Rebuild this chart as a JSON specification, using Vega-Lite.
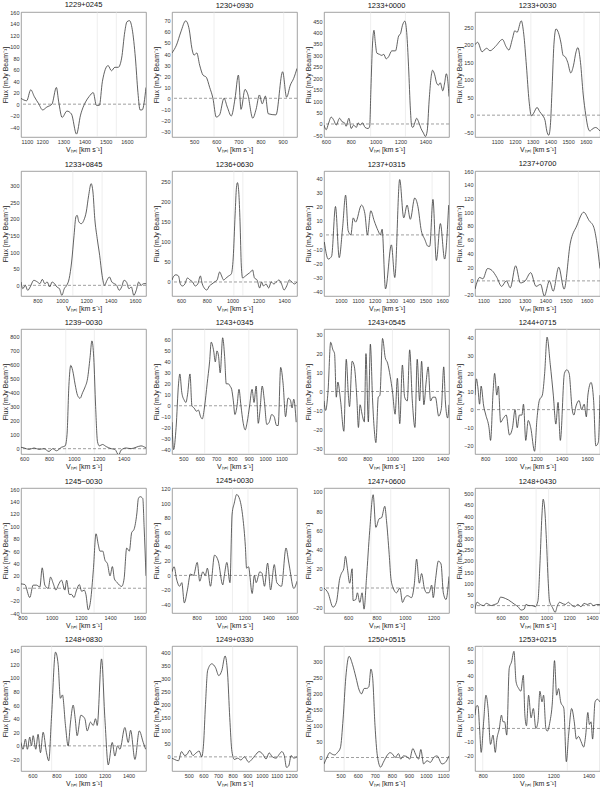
{
"$schema":"https://vega.github.io/schema/vega-lite/v6.json",
"padding":{"left":0,"right":0,"top":0,"bottom":0},
"columns":4,
"spacing":{"row":6,"column":4},
"config":{
 "font":"Liberation Sans",
 "numberFormat":"d",
 "view":{"stroke":"#8a8a8a","strokeWidth":0.8},
 "axis":{"grid":false,"ticks":false,"domain":false,"labelOverlap":false,"labelFontSize":5.5,"labelColor":"#333","titleFontSize":7,"titleFontWeight":"normal","titleColor":"#222","labelPadding":2,"labelFont":"Liberation Sans","titleFont":"Liberation Sans"},
 "axisY":{"minExtent":11,"maxExtent":11,"titlePadding":2},
 "axisX":{"titlePadding":1,"labelFlush":true},
 "title":{"fontSize":7.5,"fontWeight":"normal","offset":2,"color":"#111","font":"Liberation Sans"}
},
"datasets":{
"vlines":[{"p":"1229+0245","v":1460},{"p":"1229+0245","v":1550},{"p":"1230+0930","v":590},{"p":"1230+0930","v":905},{"p":"1233+0000","v":960},{"p":"1233+0000","v":1240},{"p":"1233+0030","v":1290},{"p":"1233+0030","v":1590},{"p":"1233+0845","v":1090},{"p":"1233+0845","v":1330},{"p":"1236+0630","v":1010},{"p":"1236+0630","v":1080},{"p":"1237+0315","v":1290},{"p":"1237+0315","v":1540},{"p":"1237+0700","v":1560},{"p":"1239-0030","v":935},{"p":"1239-0030","v":1165},{"p":"1243+0345","v":630},{"p":"1243+0345","v":900},{"p":"1243+0545","v":1000},{"p":"1244+0715","v":1230},{"p":"1244+0715","v":1440},{"p":"1245-0030","v":1290},{"p":"1245+0030","v":1100},{"p":"1245+0030","v":1230},{"p":"1247+0600","v":760},{"p":"1247+0600","v":900},{"p":"1248+0430","v":910},{"p":"1248+0430","v":1020},{"p":"1248+0830","v":760},{"p":"1248+0830","v":1190},{"p":"1249+0330","v":590},{"p":"1249+0330","v":800},{"p":"1250+0515","v":520},{"p":"1250+0515","v":730},{"p":"1253+0215","v":800},{"p":"1253+0215","v":1280}],
"s1":[{"v":1100,"f":10},{"v":1127,"f":6},{"v":1146,"f":25},{"v":1163,"f":13},{"v":1183,"f":1},{"v":1202,"f":-10},{"v":1222,"f":-5},{"v":1246,"f":0},{"v":1267,"f":29},{"v":1278,"f":4},{"v":1294,"f":-23},{"v":1317,"f":-12},{"v":1338,"f":-17},{"v":1362,"f":-52},{"v":1381,"f":-19},{"v":1405,"f":4},{"v":1421,"f":13},{"v":1441,"f":20},{"v":1456,"f":-2},{"v":1470,"f":-2},{"v":1484,"f":39},{"v":1511,"f":67},{"v":1527,"f":58},{"v":1543,"f":64},{"v":1559,"f":64},{"v":1575,"f":80},{"v":1590,"f":126},{"v":1600,"f":143},{"v":1612,"f":145},{"v":1625,"f":130},{"v":1640,"f":80},{"v":1652,"f":20},{"v":1662,"f":-10},{"v":1672,"f":-10},{"v":1690,"f":29}],
"s2":[{"v":400,"f":41},{"v":420,"f":48},{"v":440,"f":60},{"v":462,"f":70},{"v":478,"f":62},{"v":490,"f":45},{"v":500,"f":39},{"v":512,"f":41},{"v":525,"f":30},{"v":540,"f":21},{"v":555,"f":19},{"v":570,"f":10},{"v":585,"f":0},{"v":600,"f":-17},{"v":615,"f":-15},{"v":635,"f":0},{"v":650,"f":-8},{"v":668,"f":-16},{"v":685,"f":0},{"v":700,"f":21},{"v":712,"f":-10},{"v":730,"f":8},{"v":742,"f":4},{"v":765,"f":-18},{"v":780,"f":-10},{"v":795,"f":3},{"v":808,"f":-5},{"v":822,"f":2},{"v":835,"f":-14},{"v":870,"f":-15},{"v":900,"f":24},{"v":918,"f":1},{"v":935,"f":12},{"v":950,"f":18},{"v":965,"f":27}],
"s3":[{"v":585,"f":-5},{"v":603,"f":-25},{"v":620,"f":0},{"v":643,"f":30},{"v":665,"f":15},{"v":683,"f":-5},{"v":710,"f":25},{"v":730,"f":10},{"v":750,"f":5},{"v":763,"f":-10},{"v":785,"f":25},{"v":804,"f":-20},{"v":823,"f":-5},{"v":845,"f":-15},{"v":860,"f":5},{"v":875,"f":-5},{"v":895,"f":5},{"v":915,"f":-15},{"v":940,"f":-20},{"v":952,"f":-10},{"v":962,"f":150},{"v":975,"f":350},{"v":987,"f":410},{"v":997,"f":360},{"v":1010,"f":310},{"v":1030,"f":305},{"v":1050,"f":300},{"v":1065,"f":305},{"v":1085,"f":285},{"v":1105,"f":295},{"v":1130,"f":320},{"v":1160,"f":320},{"v":1185,"f":385},{"v":1200,"f":395},{"v":1215,"f":430},{"v":1235,"f":450},{"v":1250,"f":400},{"v":1265,"f":250},{"v":1280,"f":60},{"v":1290,"f":-10},{"v":1300,"f":-15},{"v":1315,"f":5},{"v":1330,"f":25},{"v":1345,"f":10},{"v":1365,"f":-20},{"v":1385,"f":-40},{"v":1400,"f":-55},{"v":1415,"f":-30},{"v":1430,"f":100},{"v":1445,"f":200},{"v":1458,"f":235},{"v":1475,"f":215},{"v":1490,"f":180},{"v":1505,"f":170},{"v":1520,"f":180},{"v":1540,"f":145},{"v":1555,"f":180},{"v":1568,"f":220},{"v":1578,"f":200},{"v":1590,"f":120}],
"s4":[{"v":975,"f":200},{"v":990,"f":207},{"v":1015,"f":180},{"v":1040,"f":190},{"v":1060,"f":183},{"v":1090,"f":195},{"v":1130,"f":215},{"v":1150,"f":195},{"v":1166,"f":185},{"v":1185,"f":215},{"v":1200,"f":240},{"v":1212,"f":235},{"v":1236,"f":268},{"v":1250,"f":230},{"v":1265,"f":140},{"v":1280,"f":40},{"v":1293,"f":-2},{"v":1305,"f":5},{"v":1325,"f":22},{"v":1340,"f":10},{"v":1355,"f":0},{"v":1370,"f":-15},{"v":1380,"f":-45},{"v":1391,"f":-57},{"v":1400,"f":-30},{"v":1410,"f":80},{"v":1420,"f":200},{"v":1432,"f":245},{"v":1445,"f":235},{"v":1460,"f":205},{"v":1472,"f":170},{"v":1485,"f":165},{"v":1498,"f":150},{"v":1515,"f":120},{"v":1530,"f":140},{"v":1545,"f":180},{"v":1555,"f":192},{"v":1570,"f":150},{"v":1585,"f":60},{"v":1600,"f":0},{"v":1612,"f":-35},{"v":1623,"f":-45},{"v":1640,"f":-38},{"v":1655,"f":-35},{"v":1680,"f":-45}],
"s5":[{"v":665,"f":10},{"v":680,"f":-10},{"v":700,"f":0},{"v":720,"f":-15},{"v":740,"f":-5},{"v":770,"f":15},{"v":800,"f":10},{"v":820,"f":5},{"v":840,"f":18},{"v":860,"f":5},{"v":880,"f":10},{"v":900,"f":-5},{"v":920,"f":10},{"v":940,"f":5},{"v":960,"f":-5},{"v":980,"f":-10},{"v":1000,"f":-30},{"v":1020,"f":-10},{"v":1040,"f":0},{"v":1060,"f":20},{"v":1080,"f":70},{"v":1100,"f":150},{"v":1115,"f":205},{"v":1125,"f":210},{"v":1140,"f":190},{"v":1160,"f":185},{"v":1180,"f":195},{"v":1200,"f":220},{"v":1220,"f":270},{"v":1240,"f":305},{"v":1255,"f":280},{"v":1270,"f":200},{"v":1290,"f":140},{"v":1310,"f":90},{"v":1330,"f":30},{"v":1350,"f":0},{"v":1370,"f":15},{"v":1390,"f":25},{"v":1410,"f":10},{"v":1430,"f":5},{"v":1450,"f":0},{"v":1470,"f":-15},{"v":1490,"f":-5},{"v":1510,"f":15},{"v":1530,"f":10},{"v":1550,"f":-10},{"v":1570,"f":-5},{"v":1590,"f":-30},{"v":1610,"f":-15},{"v":1630,"f":10},{"v":1650,"f":0},{"v":1670,"f":5},{"v":1690,"f":5}],
"s6":[{"v":530,"f":5},{"v":545,"f":15},{"v":560,"f":18},{"v":580,"f":15},{"v":595,"f":-5},{"v":610,"f":-10},{"v":630,"f":-5},{"v":650,"f":10},{"v":670,"f":5},{"v":690,"f":0},{"v":710,"f":-10},{"v":730,"f":-5},{"v":750,"f":15},{"v":765,"f":-5},{"v":780,"f":-15},{"v":800,"f":-20},{"v":820,"f":-10},{"v":840,"f":-5},{"v":860,"f":0},{"v":880,"f":5},{"v":900,"f":25},{"v":915,"f":15},{"v":930,"f":5},{"v":950,"f":10},{"v":970,"f":15},{"v":990,"f":20},{"v":1005,"f":60},{"v":1020,"f":170},{"v":1030,"f":235},{"v":1038,"f":248},{"v":1048,"f":225},{"v":1058,"f":150},{"v":1068,"f":40},{"v":1078,"f":10},{"v":1100,"f":15},{"v":1120,"f":20},{"v":1140,"f":25},{"v":1155,"f":30},{"v":1170,"f":10},{"v":1190,"f":5},{"v":1210,"f":-15},{"v":1225,"f":0},{"v":1240,"f":-10},{"v":1260,"f":-5},{"v":1280,"f":-15},{"v":1300,"f":0},{"v":1320,"f":-5},{"v":1340,"f":0},{"v":1360,"f":5},{"v":1380,"f":-5},{"v":1400,"f":-20},{"v":1420,"f":-10},{"v":1440,"f":5},{"v":1460,"f":0},{"v":1480,"f":-5},{"v":1500,"f":0}],
"s7":[{"v":902,"f":-5},{"v":925,"f":-17},{"v":945,"f":-15},{"v":968,"f":20},{"v":990,"f":-16},{"v":1010,"f":5},{"v":1028,"f":28},{"v":1043,"f":3},{"v":1059,"f":0},{"v":1073,"f":12},{"v":1087,"f":9},{"v":1122,"f":21},{"v":1142,"f":15},{"v":1157,"f":0},{"v":1177,"f":17},{"v":1197,"f":10},{"v":1220,"f":3},{"v":1234,"f":0},{"v":1244,"f":4},{"v":1264,"f":-38},{"v":1299,"f":-7},{"v":1319,"f":-30},{"v":1348,"f":39},{"v":1372,"f":12},{"v":1392,"f":21},{"v":1411,"f":11},{"v":1437,"f":26},{"v":1456,"f":20},{"v":1476,"f":3},{"v":1496,"f":-3},{"v":1516,"f":-8},{"v":1526,"f":-8},{"v":1545,"f":25},{"v":1565,"f":-18},{"v":1589,"f":8},{"v":1614,"f":-17},{"v":1638,"f":21}],
"s8":[{"v":1059,"f":-12},{"v":1082,"f":5},{"v":1097,"f":3},{"v":1120,"f":18},{"v":1142,"f":15},{"v":1165,"f":5},{"v":1188,"f":-8},{"v":1211,"f":0},{"v":1230,"f":-10},{"v":1256,"f":22},{"v":1279,"f":-3},{"v":1302,"f":0},{"v":1329,"f":12},{"v":1355,"f":-8},{"v":1377,"f":-5},{"v":1395,"f":-22},{"v":1420,"f":0},{"v":1438,"f":-15},{"v":1465,"f":20},{"v":1491,"f":-12},{"v":1521,"f":55},{"v":1552,"f":80},{"v":1586,"f":100},{"v":1612,"f":88},{"v":1635,"f":78},{"v":1650,"f":55},{"v":1665,"f":18}],
"s9":[{"v":575,"f":10},{"v":600,"f":5},{"v":640,"f":-5},{"v":680,"f":5},{"v":720,"f":-5},{"v":760,"f":0},{"v":800,"f":-20},{"v":830,"f":0},{"v":860,"f":-15},{"v":900,"f":10},{"v":930,"f":20},{"v":945,"f":100},{"v":960,"f":450},{"v":975,"f":595},{"v":990,"f":560},{"v":1010,"f":460},{"v":1030,"f":380},{"v":1050,"f":360},{"v":1070,"f":400},{"v":1090,"f":440},{"v":1110,"f":500},{"v":1130,"f":650},{"v":1145,"f":770},{"v":1160,"f":650},{"v":1175,"f":300},{"v":1190,"f":50},{"v":1205,"f":20},{"v":1230,"f":30},{"v":1260,"f":15},{"v":1300,"f":0},{"v":1330,"f":-5},{"v":1360,"f":-45},{"v":1380,"f":-10},{"v":1420,"f":5},{"v":1460,"f":0},{"v":1500,"f":10},{"v":1540,"f":20},{"v":1580,"f":5}],
"s10":[{"v":430,"f":-15},{"v":440,"f":-40},{"v":455,"f":-20},{"v":470,"f":20},{"v":478,"f":29},{"v":490,"f":12},{"v":505,"f":5},{"v":515,"f":3},{"v":525,"f":10},{"v":540,"f":29},{"v":552,"f":0},{"v":565,"f":-2},{"v":580,"f":-5},{"v":592,"f":-4},{"v":605,"f":-10},{"v":615,"f":-12},{"v":630,"f":0},{"v":645,"f":20},{"v":660,"f":40},{"v":670,"f":58},{"v":685,"f":50},{"v":695,"f":40},{"v":705,"f":50},{"v":715,"f":45},{"v":725,"f":30},{"v":740,"f":62},{"v":752,"f":45},{"v":762,"f":20},{"v":775,"f":20},{"v":785,"f":18},{"v":795,"f":15},{"v":805,"f":5},{"v":815,"f":-8},{"v":828,"f":0},{"v":840,"f":15},{"v":852,"f":0},{"v":865,"f":-15},{"v":878,"f":-22},{"v":890,"f":-15},{"v":905,"f":0},{"v":920,"f":15},{"v":932,"f":3},{"v":945,"f":18},{"v":958,"f":-16},{"v":968,"f":-5},{"v":982,"f":18},{"v":995,"f":5},{"v":1010,"f":-17},{"v":1025,"f":-15},{"v":1040,"f":-8},{"v":1055,"f":-10},{"v":1070,"f":-18},{"v":1080,"f":-18},{"v":1095,"f":35},{"v":1110,"f":20},{"v":1125,"f":-10},{"v":1140,"f":7},{"v":1155,"f":5},{"v":1165,"f":-2},{"v":1175,"f":6},{"v":1190,"f":-15}],
"s11":[{"v":455,"f":-5},{"v":468,"f":-10},{"v":487,"f":0},{"v":508,"f":26},{"v":526,"f":22},{"v":539,"f":20},{"v":553,"f":-3},{"v":565,"f":5},{"v":587,"f":-5},{"v":613,"f":-21},{"v":632,"f":17},{"v":650,"f":-3},{"v":658,"f":-8},{"v":679,"f":16},{"v":697,"f":13},{"v":716,"f":-3},{"v":729,"f":-19},{"v":742,"f":-7},{"v":758,"f":-12},{"v":776,"f":-16},{"v":789,"f":20},{"v":808,"f":-16},{"v":824,"f":25},{"v":842,"f":-5},{"v":855,"f":-20},{"v":868,"f":-27},{"v":887,"f":-3},{"v":900,"f":-2},{"v":921,"f":28},{"v":942,"f":18},{"v":961,"f":15},{"v":982,"f":8},{"v":1000,"f":0},{"v":1021,"f":-12},{"v":1039,"f":7},{"v":1058,"f":-17},{"v":1079,"f":14},{"v":1097,"f":-3},{"v":1118,"f":-5},{"v":1137,"f":22},{"v":1158,"f":-5},{"v":1179,"f":-19},{"v":1197,"f":17},{"v":1216,"f":-5},{"v":1232,"f":16},{"v":1250,"f":-7},{"v":1268,"f":5},{"v":1284,"f":13},{"v":1303,"f":-5},{"v":1321,"f":-3},{"v":1342,"f":-3},{"v":1368,"f":-13},{"v":1389,"f":-9},{"v":1408,"f":13},{"v":1421,"f":-5},{"v":1439,"f":-14},{"v":1450,"f":-7}],
"s12":[{"v":720,"f":8},{"v":731,"f":17},{"v":743,"f":12},{"v":756,"f":3},{"v":768,"f":13},{"v":788,"f":2},{"v":805,"f":-3},{"v":830,"f":-10},{"v":842,"f":-17},{"v":862,"f":10},{"v":874,"f":20},{"v":891,"f":8},{"v":903,"f":13},{"v":921,"f":-7},{"v":940,"f":-5},{"v":965,"f":-3},{"v":990,"f":-14},{"v":1014,"f":-10},{"v":1034,"f":0},{"v":1051,"f":-10},{"v":1068,"f":-3},{"v":1088,"f":-3},{"v":1100,"f":3},{"v":1118,"f":-17},{"v":1137,"f":-6},{"v":1157,"f":-10},{"v":1187,"f":-23},{"v":1206,"f":-5},{"v":1224,"f":5},{"v":1248,"f":8},{"v":1266,"f":20},{"v":1285,"f":40},{"v":1310,"f":25},{"v":1334,"f":8},{"v":1354,"f":-8},{"v":1371,"f":4},{"v":1389,"f":-17},{"v":1421,"f":20},{"v":1440,"f":22},{"v":1458,"f":20},{"v":1482,"f":0},{"v":1495,"f":-3},{"v":1512,"f":2},{"v":1536,"f":5},{"v":1556,"f":0},{"v":1576,"f":3},{"v":1593,"f":-4},{"v":1605,"f":8},{"v":1630,"f":15},{"v":1650,"f":5},{"v":1667,"f":-20},{"v":1687,"f":-18},{"v":1700,"f":8}],
"s13":[{"v":790,"f":7},{"v":816,"f":6},{"v":850,"f":-15},{"v":873,"f":5},{"v":896,"f":5},{"v":919,"f":2},{"v":935,"f":33},{"v":953,"f":5},{"v":976,"f":0},{"v":992,"f":18},{"v":1010,"f":8},{"v":1029,"f":-3},{"v":1045,"f":5},{"v":1067,"f":13},{"v":1090,"f":-3},{"v":1102,"f":13},{"v":1120,"f":-10},{"v":1136,"f":-10},{"v":1152,"f":-15},{"v":1170,"f":-3},{"v":1189,"f":6},{"v":1205,"f":-5},{"v":1223,"f":-3},{"v":1234,"f":-10},{"v":1250,"f":-35},{"v":1266,"f":-20},{"v":1285,"f":30},{"v":1303,"f":88},{"v":1319,"f":70},{"v":1330,"f":60},{"v":1349,"f":60},{"v":1365,"f":45},{"v":1381,"f":40},{"v":1399,"f":20},{"v":1415,"f":35},{"v":1429,"f":15},{"v":1445,"f":10},{"v":1463,"f":5},{"v":1479,"f":3},{"v":1495,"f":15},{"v":1513,"f":65},{"v":1531,"f":60},{"v":1547,"f":90},{"v":1563,"f":95},{"v":1582,"f":120},{"v":1593,"f":145},{"v":1605,"f":148},{"v":1623,"f":145},{"v":1632,"f":100},{"v":1645,"f":20}],
"s14":[{"v":594,"f":5},{"v":612,"f":12},{"v":632,"f":-5},{"v":658,"f":-15},{"v":676,"f":-10},{"v":697,"f":-38},{"v":723,"f":-20},{"v":748,"f":2},{"v":774,"f":0},{"v":805,"f":18},{"v":826,"f":-8},{"v":852,"f":5},{"v":872,"f":0},{"v":890,"f":10},{"v":916,"f":-15},{"v":950,"f":28},{"v":981,"f":20},{"v":1019,"f":-13},{"v":1032,"f":0},{"v":1053,"f":18},{"v":1079,"f":-10},{"v":1097,"f":85},{"v":1115,"f":100},{"v":1135,"f":112},{"v":1161,"f":105},{"v":1187,"f":80},{"v":1208,"f":40},{"v":1218,"f":10},{"v":1234,"f":12},{"v":1265,"f":-25},{"v":1283,"f":0},{"v":1298,"f":-10},{"v":1329,"f":5},{"v":1347,"f":3},{"v":1368,"f":-15},{"v":1394,"f":17},{"v":1419,"f":-20},{"v":1450,"f":15},{"v":1471,"f":-10},{"v":1510,"f":-15},{"v":1548,"f":38},{"v":1569,"f":20},{"v":1579,"f":10},{"v":1613,"f":-18},{"v":1640,"f":-8}],
"s15":[{"v":430,"f":0},{"v":458,"f":-5},{"v":494,"f":-20},{"v":517,"f":-15},{"v":541,"f":10},{"v":552,"f":15},{"v":569,"f":20},{"v":581,"f":33},{"v":595,"f":20},{"v":611,"f":5},{"v":628,"f":20},{"v":635,"f":-13},{"v":654,"f":-12},{"v":665,"f":-5},{"v":682,"f":-15},{"v":698,"f":-5},{"v":712,"f":-22},{"v":729,"f":10},{"v":752,"f":60},{"v":776,"f":97},{"v":795,"f":63},{"v":818,"f":72},{"v":835,"f":73},{"v":858,"f":85},{"v":870,"f":70},{"v":889,"f":35},{"v":901,"f":10},{"v":917,"f":0},{"v":941,"f":-5},{"v":964,"f":0},{"v":983,"f":-15},{"v":999,"f":-10},{"v":1018,"f":-8},{"v":1046,"f":-10},{"v":1065,"f":3},{"v":1082,"f":30},{"v":1101,"f":5},{"v":1117,"f":15},{"v":1136,"f":0},{"v":1152,"f":-5},{"v":1169,"f":-5},{"v":1188,"f":3},{"v":1199,"f":-10},{"v":1216,"f":10},{"v":1235,"f":28},{"v":1254,"f":25},{"v":1270,"f":-5},{"v":1289,"f":-12},{"v":1310,"f":12}],
"s16":[{"v":375,"f":-15},{"v":393,"f":15},{"v":421,"f":5},{"v":448,"f":0},{"v":476,"f":10},{"v":517,"f":0},{"v":545,"f":5},{"v":572,"f":10},{"v":600,"f":38},{"v":641,"f":32},{"v":669,"f":25},{"v":697,"f":15},{"v":724,"f":5},{"v":752,"f":-5},{"v":779,"f":-20},{"v":807,"f":-15},{"v":821,"f":5},{"v":848,"f":0},{"v":876,"f":0},{"v":903,"f":-5},{"v":926,"f":20},{"v":945,"f":200},{"v":961,"f":400},{"v":972,"f":475},{"v":986,"f":430},{"v":1000,"f":300},{"v":1017,"f":100},{"v":1028,"f":20},{"v":1055,"f":-10},{"v":1077,"f":-30},{"v":1097,"f":0},{"v":1116,"f":15},{"v":1138,"f":10},{"v":1166,"f":5},{"v":1193,"f":15},{"v":1215,"f":5},{"v":1248,"f":-5},{"v":1276,"f":5},{"v":1303,"f":-5},{"v":1331,"f":10},{"v":1359,"f":5},{"v":1386,"f":10},{"v":1414,"f":0},{"v":1441,"f":5},{"v":1469,"f":5}],
"s17":[{"v":505,"f":5},{"v":522,"f":-5},{"v":542,"f":10},{"v":558,"f":-5},{"v":578,"f":13},{"v":592,"f":0},{"v":606,"f":15},{"v":628,"f":-5},{"v":647,"f":17},{"v":667,"f":-10},{"v":689,"f":20},{"v":717,"f":-10},{"v":736,"f":-22},{"v":758,"f":40},{"v":792,"f":138},{"v":814,"f":120},{"v":833,"f":70},{"v":850,"f":75},{"v":875,"f":30},{"v":897,"f":0},{"v":917,"f":35},{"v":939,"f":60},{"v":956,"f":40},{"v":972,"f":15},{"v":1003,"f":45},{"v":1036,"f":40},{"v":1056,"f":22},{"v":1083,"f":35},{"v":1106,"f":30},{"v":1125,"f":40},{"v":1139,"f":30},{"v":1175,"f":128},{"v":1203,"f":40},{"v":1231,"f":-28},{"v":1264,"f":5},{"v":1286,"f":-15},{"v":1308,"f":0},{"v":1328,"f":-5},{"v":1369,"f":27},{"v":1397,"f":5},{"v":1417,"f":23},{"v":1453,"f":-20},{"v":1489,"f":22},{"v":1522,"f":5},{"v":1542,"f":-5}],
"s18":[{"v":385,"f":-5},{"v":403,"f":-10},{"v":429,"f":-15},{"v":450,"f":20},{"v":472,"f":5},{"v":489,"f":10},{"v":506,"f":25},{"v":528,"f":5},{"v":550,"f":15},{"v":571,"f":22},{"v":588,"f":0},{"v":601,"f":50},{"v":614,"f":200},{"v":629,"f":330},{"v":657,"f":355},{"v":683,"f":340},{"v":705,"f":310},{"v":726,"f":330},{"v":748,"f":385},{"v":765,"f":320},{"v":780,"f":150},{"v":795,"f":20},{"v":812,"f":-10},{"v":834,"f":-5},{"v":856,"f":-12},{"v":881,"f":0},{"v":909,"f":-20},{"v":931,"f":-10},{"v":953,"f":5},{"v":981,"f":20},{"v":1006,"f":10},{"v":1028,"f":-8},{"v":1050,"f":15},{"v":1071,"f":0},{"v":1097,"f":-5},{"v":1119,"f":10},{"v":1136,"f":20},{"v":1153,"f":5},{"v":1168,"f":-40},{"v":1183,"f":-35},{"v":1200,"f":5},{"v":1218,"f":-5},{"v":1240,"f":0}],
"s19":[{"v":402,"f":-20},{"v":419,"f":0},{"v":435,"f":15},{"v":451,"f":10},{"v":465,"f":8},{"v":480,"f":15},{"v":498,"f":30},{"v":514,"f":120},{"v":530,"f":250},{"v":549,"f":315},{"v":569,"f":290},{"v":589,"f":250},{"v":608,"f":210},{"v":622,"f":198},{"v":638,"f":215},{"v":652,"f":215},{"v":665,"f":220},{"v":677,"f":275},{"v":687,"f":250},{"v":701,"f":100},{"v":715,"f":5},{"v":734,"f":-30},{"v":750,"f":-15},{"v":770,"f":5},{"v":789,"f":15},{"v":805,"f":10},{"v":819,"f":0},{"v":839,"f":12},{"v":852,"f":-5},{"v":868,"f":5},{"v":888,"f":3},{"v":904,"f":-5},{"v":923,"f":28},{"v":939,"f":10},{"v":957,"f":-5},{"v":970,"f":25},{"v":986,"f":-20},{"v":1006,"f":-10},{"v":1026,"f":-15},{"v":1045,"f":0},{"v":1065,"f":5},{"v":1094,"f":-20},{"v":1114,"f":-15},{"v":1135,"f":5}],
"s20":[{"v":756,"f":10},{"v":765,"f":17},{"v":773,"f":17},{"v":782,"f":0},{"v":791,"f":-18},{"v":805,"f":5},{"v":818,"f":25},{"v":830,"f":15},{"v":844,"f":-12},{"v":858,"f":-5},{"v":871,"f":-18},{"v":880,"f":-8},{"v":894,"f":0},{"v":906,"f":10},{"v":915,"f":5},{"v":924,"f":5},{"v":936,"f":-5},{"v":950,"f":45},{"v":963,"f":50},{"v":977,"f":58},{"v":989,"f":35},{"v":1004,"f":30},{"v":1016,"f":28},{"v":1030,"f":40},{"v":1039,"f":10},{"v":1048,"f":2},{"v":1060,"f":25},{"v":1074,"f":8},{"v":1087,"f":15},{"v":1101,"f":0},{"v":1113,"f":5},{"v":1124,"f":28},{"v":1136,"f":20},{"v":1145,"f":25},{"v":1158,"f":0},{"v":1166,"f":-2},{"v":1181,"f":5},{"v":1195,"f":20},{"v":1207,"f":51},{"v":1219,"f":25},{"v":1230,"f":30},{"v":1242,"f":20},{"v":1260,"f":15},{"v":1274,"f":-25},{"v":1287,"f":-5},{"v":1304,"f":15},{"v":1319,"f":5},{"v":1331,"f":-8},{"v":1343,"f":-6},{"v":1358,"f":-10},{"v":1372,"f":-14},{"v":1384,"f":-5},{"v":1396,"f":12},{"v":1405,"f":3},{"v":1414,"f":5},{"v":1423,"f":-8},{"v":1437,"f":20},{"v":1450,"f":22},{"v":1464,"f":20}]
},
"concat":[
{"title":"1229+0245","width":125,"height":125,"layer":[
{"data":{"name":"vlines"},"transform":[{"filter":"datum.p==='1229+0245'"}],"mark":{"type":"rule","color":"#e2e2e2","strokeWidth":0.6},"encoding":{"x":{"field":"v","type":"quantitative","scale":{"domain":[1100,1690],"nice":false,"zero":false},"axis":{"values":[1100,1200,1300,1400,1500,1600],"title":"Vₕₑₗ [km s⁻¹]"}}}},
{"data":{"values":[{}]},"mark":{"type":"rule","color":"#777","strokeDash":[3,2],"strokeWidth":0.7},"encoding":{"y":{"datum":0,"type":"quantitative","scale":{"domain":[-57,160],"nice":false,"zero":false},"axis":{"values":[-40,-20,0,20,40,60,80,100,120,140,160],"title":"Flux [mJy Beam⁻¹]"}}}},
{"data":{"name":"s1"},"mark":{"type":"line","clip":true,"interpolate":"monotone","color":"#3a3a3a","strokeWidth":0.8},"encoding":{"x":{"field":"v","type":"quantitative","scale":{"domain":[1100,1690],"nice":false,"zero":false},"axis":{"values":[1100,1200,1300,1400,1500,1600],"title":"Vₕₑₗ [km s⁻¹]"}},"y":{"field":"f","type":"quantitative","scale":{"domain":[-57,160],"nice":false,"zero":false},"axis":{"values":[-40,-20,0,20,40,60,80,100,120,140,160],"title":"Flux [mJy Beam⁻¹]"}}}}]},
{"title":"1230+0930","width":125,"height":125,"layer":[
{"data":{"name":"vlines"},"transform":[{"filter":"datum.p==='1230+0930'"}],"mark":{"type":"rule","color":"#e2e2e2","strokeWidth":0.6},"encoding":{"x":{"field":"v","type":"quantitative","scale":{"domain":[400,965],"nice":false,"zero":false},"axis":{"values":[500,600,700,800,900],"title":"Vₕₑₗ [km s⁻¹]"}}}},
{"data":{"values":[{}]},"mark":{"type":"rule","color":"#777","strokeDash":[3,2],"strokeWidth":0.7},"encoding":{"y":{"datum":0,"type":"quantitative","scale":{"domain":[-35,78],"nice":false,"zero":false},"axis":{"values":[-30,-20,-10,0,10,20,30,40,50,60,70],"title":"Flux [mJy Beam⁻¹]"}}}},
{"data":{"name":"s2"},"mark":{"type":"line","clip":true,"interpolate":"monotone","color":"#3a3a3a","strokeWidth":0.8},"encoding":{"x":{"field":"v","type":"quantitative","scale":{"domain":[400,965],"nice":false,"zero":false},"axis":{"values":[500,600,700,800,900],"title":"Vₕₑₗ [km s⁻¹]"}},"y":{"field":"f","type":"quantitative","scale":{"domain":[-35,78],"nice":false,"zero":false},"axis":{"values":[-30,-20,-10,0,10,20,30,40,50,60,70],"title":"Flux [mJy Beam⁻¹]"}}}}]},
{"title":"1233+0000","width":125,"height":125,"layer":[
{"data":{"name":"vlines"},"transform":[{"filter":"datum.p==='1233+0000'"}],"mark":{"type":"rule","color":"#e2e2e2","strokeWidth":0.6},"encoding":{"x":{"field":"v","type":"quantitative","scale":{"domain":[585,1590],"nice":false,"zero":false},"axis":{"values":[600,800,1000,1200,1400],"title":"Vₕₑₗ [km s⁻¹]"}}}},
{"data":{"values":[{}]},"mark":{"type":"rule","color":"#777","strokeDash":[3,2],"strokeWidth":0.7},"encoding":{"y":{"datum":0,"type":"quantitative","scale":{"domain":[-57,490],"nice":false,"zero":false},"axis":{"values":[-50,0,50,100,150,200,250,300,350,400,450],"title":"Flux [mJy Beam⁻¹]"}}}},
{"data":{"name":"s3"},"mark":{"type":"line","clip":true,"interpolate":"monotone","color":"#3a3a3a","strokeWidth":0.8},"encoding":{"x":{"field":"v","type":"quantitative","scale":{"domain":[585,1590],"nice":false,"zero":false},"axis":{"values":[600,800,1000,1200,1400],"title":"Vₕₑₗ [km s⁻¹]"}},"y":{"field":"f","type":"quantitative","scale":{"domain":[-57,490],"nice":false,"zero":false},"axis":{"values":[-50,0,50,100,150,200,250,300,350,400,450],"title":"Flux [mJy Beam⁻¹]"}}}}]},
{"title":"1233+0030","width":125,"height":125,"layer":[
{"data":{"name":"vlines"},"transform":[{"filter":"datum.p==='1233+0030'"}],"mark":{"type":"rule","color":"#e2e2e2","strokeWidth":0.6},"encoding":{"x":{"field":"v","type":"quantitative","scale":{"domain":[975,1680],"nice":false,"zero":false},"axis":{"values":[1100,1200,1300,1400,1500,1600],"title":"Vₕₑₗ [km s⁻¹]"}}}},
{"data":{"values":[{}]},"mark":{"type":"rule","color":"#777","strokeDash":[3,2],"strokeWidth":0.7},"encoding":{"y":{"datum":0,"type":"quantitative","scale":{"domain":[-62,293],"nice":false,"zero":false},"axis":{"values":[-50,0,50,100,150,200,250],"title":"Flux [mJy Beam⁻¹]"}}}},
{"data":{"name":"s4"},"mark":{"type":"line","clip":true,"interpolate":"monotone","color":"#3a3a3a","strokeWidth":0.8},"encoding":{"x":{"field":"v","type":"quantitative","scale":{"domain":[975,1680],"nice":false,"zero":false},"axis":{"values":[1100,1200,1300,1400,1500,1600],"title":"Vₕₑₗ [km s⁻¹]"}},"y":{"field":"f","type":"quantitative","scale":{"domain":[-62,293],"nice":false,"zero":false},"axis":{"values":[-50,0,50,100,150,200,250],"title":"Flux [mJy Beam⁻¹]"}}}}]},
{"title":"1233+0845","width":125,"height":125,"layer":[
{"data":{"name":"vlines"},"transform":[{"filter":"datum.p==='1233+0845'"}],"mark":{"type":"rule","color":"#e2e2e2","strokeWidth":0.6},"encoding":{"x":{"field":"v","type":"quantitative","scale":{"domain":[665,1690],"nice":false,"zero":false},"axis":{"values":[800,1000,1200,1400,1600],"title":"Vₕₑₗ [km s⁻¹]"}}}},
{"data":{"values":[{}]},"mark":{"type":"rule","color":"#777","strokeDash":[3,2],"strokeWidth":0.7},"encoding":{"y":{"datum":0,"type":"quantitative","scale":{"domain":[-32,343],"nice":false,"zero":false},"axis":{"values":[0,50,100,150,200,250,300],"title":"Flux [mJy Beam⁻¹]"}}}},
{"data":{"name":"s5"},"mark":{"type":"line","clip":true,"interpolate":"monotone","color":"#3a3a3a","strokeWidth":0.8},"encoding":{"x":{"field":"v","type":"quantitative","scale":{"domain":[665,1690],"nice":false,"zero":false},"axis":{"values":[800,1000,1200,1400,1600],"title":"Vₕₑₗ [km s⁻¹]"}},"y":{"field":"f","type":"quantitative","scale":{"domain":[-32,343],"nice":false,"zero":false},"axis":{"values":[0,50,100,150,200,250,300],"title":"Flux [mJy Beam⁻¹]"}}}}]},
{"title":"1236+0630","width":125,"height":125,"layer":[
{"data":{"name":"vlines"},"transform":[{"filter":"datum.p==='1236+0630'"}],"mark":{"type":"rule","color":"#e2e2e2","strokeWidth":0.6},"encoding":{"x":{"field":"v","type":"quantitative","scale":{"domain":[530,1500],"nice":false,"zero":false},"axis":{"values":[600,800,1000,1200,1400],"title":"Vₕₑₗ [km s⁻¹]"}}}},
{"data":{"values":[{}]},"mark":{"type":"rule","color":"#777","strokeDash":[3,2],"strokeWidth":0.7},"encoding":{"y":{"datum":0,"type":"quantitative","scale":{"domain":[-35,277],"nice":false,"zero":false},"axis":{"values":[0,50,100,150,200,250],"title":"Flux [mJy Beam⁻¹]"}}}},
{"data":{"name":"s6"},"mark":{"type":"line","clip":true,"interpolate":"monotone","color":"#3a3a3a","strokeWidth":0.8},"encoding":{"x":{"field":"v","type":"quantitative","scale":{"domain":[530,1500],"nice":false,"zero":false},"axis":{"values":[600,800,1000,1200,1400],"title":"Vₕₑₗ [km s⁻¹]"}},"y":{"field":"f","type":"quantitative","scale":{"domain":[-35,277],"nice":false,"zero":false},"axis":{"values":[0,50,100,150,200,250],"title":"Flux [mJy Beam⁻¹]"}}}}]},
{"title":"1237+0315","width":125,"height":125,"layer":[
{"data":{"name":"vlines"},"transform":[{"filter":"datum.p==='1237+0315'"}],"mark":{"type":"rule","color":"#e2e2e2","strokeWidth":0.6},"encoding":{"x":{"field":"v","type":"quantitative","scale":{"domain":[900,1640],"nice":false,"zero":false},"axis":{"values":[1000,1100,1200,1300,1400,1500,1600],"title":"Vₕₑₗ [km s⁻¹]"}}}},
{"data":{"values":[{}]},"mark":{"type":"rule","color":"#777","strokeDash":[3,2],"strokeWidth":0.7},"encoding":{"y":{"datum":0,"type":"quantitative","scale":{"domain":[-43,45],"nice":false,"zero":false},"axis":{"values":[-40,-30,-20,-10,0,10,20,30,40],"title":"Flux [mJy Beam⁻¹]"}}}},
{"data":{"name":"s7"},"mark":{"type":"line","clip":true,"interpolate":"monotone","color":"#3a3a3a","strokeWidth":0.8},"encoding":{"x":{"field":"v","type":"quantitative","scale":{"domain":[900,1640],"nice":false,"zero":false},"axis":{"values":[1000,1100,1200,1300,1400,1500,1600],"title":"Vₕₑₗ [km s⁻¹]"}},"y":{"field":"f","type":"quantitative","scale":{"domain":[-43,45],"nice":false,"zero":false},"axis":{"values":[-40,-30,-20,-10,0,10,20,30,40],"title":"Flux [mJy Beam⁻¹]"}}}}]},
{"title":"1237+0700","width":125,"height":125,"layer":[
{"data":{"name":"vlines"},"transform":[{"filter":"datum.p==='1237+0700'"}],"mark":{"type":"rule","color":"#e2e2e2","strokeWidth":0.6},"encoding":{"x":{"field":"v","type":"quantitative","scale":{"domain":[1059,1665],"nice":false,"zero":false},"axis":{"values":[1100,1200,1300,1400,1500,1600],"title":"Vₕₑₗ [km s⁻¹]"}}}},
{"data":{"values":[{}]},"mark":{"type":"rule","color":"#777","strokeDash":[3,2],"strokeWidth":0.7},"encoding":{"y":{"datum":0,"type":"quantitative","scale":{"domain":[-22,160],"nice":false,"zero":false},"axis":{"values":[-20,0,20,40,60,80,100,120,140,160],"title":"Flux [mJy Beam⁻¹]"}}}},
{"data":{"name":"s8"},"mark":{"type":"line","clip":true,"interpolate":"monotone","color":"#3a3a3a","strokeWidth":0.8},"encoding":{"x":{"field":"v","type":"quantitative","scale":{"domain":[1059,1665],"nice":false,"zero":false},"axis":{"values":[1100,1200,1300,1400,1500,1600],"title":"Vₕₑₗ [km s⁻¹]"}},"y":{"field":"f","type":"quantitative","scale":{"domain":[-22,160],"nice":false,"zero":false},"axis":{"values":[-20,0,20,40,60,80,100,120,140,160],"title":"Flux [mJy Beam⁻¹]"}}}}]},
{"title":"1239−0030","width":125,"height":125,"layer":[
{"data":{"name":"vlines"},"transform":[{"filter":"datum.p==='1239-0030'"}],"mark":{"type":"rule","color":"#e2e2e2","strokeWidth":0.6},"encoding":{"x":{"field":"v","type":"quantitative","scale":{"domain":[575,1580],"nice":false,"zero":false},"axis":{"values":[600,800,1000,1200,1400],"title":"Vₕₑₗ [km s⁻¹]"}}}},
{"data":{"values":[{}]},"mark":{"type":"rule","color":"#777","strokeDash":[3,2],"strokeWidth":0.7},"encoding":{"y":{"datum":0,"type":"quantitative","scale":{"domain":[-38,855],"nice":false,"zero":false},"axis":{"values":[0,100,200,300,400,500,600,700,800],"title":"Flux [mJy Beam⁻¹]"}}}},
{"data":{"name":"s9"},"mark":{"type":"line","clip":true,"interpolate":"monotone","color":"#3a3a3a","strokeWidth":0.8},"encoding":{"x":{"field":"v","type":"quantitative","scale":{"domain":[575,1580],"nice":false,"zero":false},"axis":{"values":[600,800,1000,1200,1400],"title":"Vₕₑₗ [km s⁻¹]"}},"y":{"field":"f","type":"quantitative","scale":{"domain":[-38,855],"nice":false,"zero":false},"axis":{"values":[0,100,200,300,400,500,600,700,800],"title":"Flux [mJy Beam⁻¹]"}}}}]},
{"title":"1243+0345","width":125,"height":125,"layer":[
{"data":{"name":"vlines"},"transform":[{"filter":"datum.p==='1243+0345'"}],"mark":{"type":"rule","color":"#e2e2e2","strokeWidth":0.6},"encoding":{"x":{"field":"v","type":"quantitative","scale":{"domain":[430,1195],"nice":false,"zero":false},"axis":{"values":[500,600,700,800,900,1000,1100],"title":"Vₕₑₗ [km s⁻¹]"}}}},
{"data":{"values":[{}]},"mark":{"type":"rule","color":"#777","strokeDash":[3,2],"strokeWidth":0.7},"encoding":{"y":{"datum":0,"type":"quantitative","scale":{"domain":[-44,70],"nice":false,"zero":false},"axis":{"values":[-40,-30,-20,-10,0,10,20,30,40,50,60],"title":"Flux [mJy Beam⁻¹]"}}}},
{"data":{"name":"s10"},"mark":{"type":"line","clip":true,"interpolate":"monotone","color":"#3a3a3a","strokeWidth":0.8},"encoding":{"x":{"field":"v","type":"quantitative","scale":{"domain":[430,1195],"nice":false,"zero":false},"axis":{"values":[500,600,700,800,900,1000,1100],"title":"Vₕₑₗ [km s⁻¹]"}},"y":{"field":"f","type":"quantitative","scale":{"domain":[-44,70],"nice":false,"zero":false},"axis":{"values":[-40,-30,-20,-10,0,10,20,30,40,50,60],"title":"Flux [mJy Beam⁻¹]"}}}}]},
{"title":"1243+0545","width":125,"height":125,"layer":[
{"data":{"name":"vlines"},"transform":[{"filter":"datum.p==='1243+0545'"}],"mark":{"type":"rule","color":"#e2e2e2","strokeWidth":0.6},"encoding":{"x":{"field":"v","type":"quantitative","scale":{"domain":[455,1450],"nice":false,"zero":false},"axis":{"values":[600,800,1000,1200,1400],"title":"Vₕₑₗ [km s⁻¹]"}}}},
{"data":{"values":[{}]},"mark":{"type":"rule","color":"#777","strokeDash":[3,2],"strokeWidth":0.7},"encoding":{"y":{"datum":0,"type":"quantitative","scale":{"domain":[-33,33],"nice":false,"zero":false},"axis":{"values":[-30,-20,-10,0,10,20,30],"title":"Flux [mJy Beam⁻¹]"}}}},
{"data":{"name":"s11"},"mark":{"type":"line","clip":true,"interpolate":"monotone","color":"#3a3a3a","strokeWidth":0.8},"encoding":{"x":{"field":"v","type":"quantitative","scale":{"domain":[455,1450],"nice":false,"zero":false},"axis":{"values":[600,800,1000,1200,1400],"title":"Vₕₑₗ [km s⁻¹]"}},"y":{"field":"f","type":"quantitative","scale":{"domain":[-33,33],"nice":false,"zero":false},"axis":{"values":[-30,-20,-10,0,10,20,30],"title":"Flux [mJy Beam⁻¹]"}}}}]},
{"title":"1244+0715","width":125,"height":125,"layer":[
{"data":{"name":"vlines"},"transform":[{"filter":"datum.p==='1244+0715'"}],"mark":{"type":"rule","color":"#e2e2e2","strokeWidth":0.6},"encoding":{"x":{"field":"v","type":"quantitative","scale":{"domain":[720,1700],"nice":false,"zero":false},"axis":{"values":[800,1000,1200,1400,1600],"title":"Vₕₑₗ [km s⁻¹]"}}}},
{"data":{"values":[{}]},"mark":{"type":"rule","color":"#777","strokeDash":[3,2],"strokeWidth":0.7},"encoding":{"y":{"datum":0,"type":"quantitative","scale":{"domain":[-24.5,44.5],"nice":false,"zero":false},"axis":{"values":[-20,-10,0,10,20,30,40],"title":"Flux [mJy Beam⁻¹]"}}}},
{"data":{"name":"s12"},"mark":{"type":"line","clip":true,"interpolate":"monotone","color":"#3a3a3a","strokeWidth":0.8},"encoding":{"x":{"field":"v","type":"quantitative","scale":{"domain":[720,1700],"nice":false,"zero":false},"axis":{"values":[800,1000,1200,1400,1600],"title":"Vₕₑₗ [km s⁻¹]"}},"y":{"field":"f","type":"quantitative","scale":{"domain":[-24.5,44.5],"nice":false,"zero":false},"axis":{"values":[-20,-10,0,10,20,30,40],"title":"Flux [mJy Beam⁻¹]"}}}}]},
{"title":"1245−0030","width":125,"height":125,"layer":[
{"data":{"name":"vlines"},"transform":[{"filter":"datum.p==='1245-0030'"}],"mark":{"type":"rule","color":"#e2e2e2","strokeWidth":0.6},"encoding":{"x":{"field":"v","type":"quantitative","scale":{"domain":[790,1645],"nice":false,"zero":false},"axis":{"values":[800,1000,1200,1400,1600],"title":"Vₕₑₗ [km s⁻¹]"}}}},
{"data":{"values":[{}]},"mark":{"type":"rule","color":"#777","strokeDash":[3,2],"strokeWidth":0.7},"encoding":{"y":{"datum":0,"type":"quantitative","scale":{"domain":[-40,162],"nice":false,"zero":false},"axis":{"values":[-40,-20,0,20,40,60,80,100,120,140,160],"title":"Flux [mJy Beam⁻¹]"}}}},
{"data":{"name":"s13"},"mark":{"type":"line","clip":true,"interpolate":"monotone","color":"#3a3a3a","strokeWidth":0.8},"encoding":{"x":{"field":"v","type":"quantitative","scale":{"domain":[790,1645],"nice":false,"zero":false},"axis":{"values":[800,1000,1200,1400,1600],"title":"Vₕₑₗ [km s⁻¹]"}},"y":{"field":"f","type":"quantitative","scale":{"domain":[-40,162],"nice":false,"zero":false},"axis":{"values":[-40,-20,0,20,40,60,80,100,120,140,160],"title":"Flux [mJy Beam⁻¹]"}}}}]},
{"title":"1245+0030","width":125,"height":125,"layer":[
{"data":{"name":"vlines"},"transform":[{"filter":"datum.p==='1245+0030'"}],"mark":{"type":"rule","color":"#e2e2e2","strokeWidth":0.6},"encoding":{"x":{"field":"v","type":"quantitative","scale":{"domain":[594,1640],"nice":false,"zero":false},"axis":{"values":[800,1000,1200,1400,1600],"title":"Vₕₑₗ [km s⁻¹]"}}}},
{"data":{"values":[{}]},"mark":{"type":"rule","color":"#777","strokeDash":[3,2],"strokeWidth":0.7},"encoding":{"y":{"datum":0,"type":"quantitative","scale":{"domain":[-52,121],"nice":false,"zero":false},"axis":{"values":[-40,-20,0,20,40,60,80,100,120],"title":"Flux [mJy Beam⁻¹]"}}}},
{"data":{"name":"s14"},"mark":{"type":"line","clip":true,"interpolate":"monotone","color":"#3a3a3a","strokeWidth":0.8},"encoding":{"x":{"field":"v","type":"quantitative","scale":{"domain":[594,1640],"nice":false,"zero":false},"axis":{"values":[800,1000,1200,1400,1600],"title":"Vₕₑₗ [km s⁻¹]"}},"y":{"field":"f","type":"quantitative","scale":{"domain":[-52,121],"nice":false,"zero":false},"axis":{"values":[-40,-20,0,20,40,60,80,100,120],"title":"Flux [mJy Beam⁻¹]"}}}}]},
{"title":"1247+0600","width":125,"height":125,"layer":[
{"data":{"name":"vlines"},"transform":[{"filter":"datum.p==='1247+0600'"}],"mark":{"type":"rule","color":"#e2e2e2","strokeWidth":0.6},"encoding":{"x":{"field":"v","type":"quantitative","scale":{"domain":[430,1310],"nice":false,"zero":false},"axis":{"values":[600,800,1000,1200],"title":"Vₕₑₗ [km s⁻¹]"}}}},
{"data":{"values":[{}]},"mark":{"type":"rule","color":"#777","strokeDash":[3,2],"strokeWidth":0.7},"encoding":{"y":{"datum":0,"type":"quantitative","scale":{"domain":[-26,104],"nice":false,"zero":false},"axis":{"values":[-20,0,20,40,60,80,100],"title":"Flux [mJy Beam⁻¹]"}}}},
{"data":{"name":"s15"},"mark":{"type":"line","clip":true,"interpolate":"monotone","color":"#3a3a3a","strokeWidth":0.8},"encoding":{"x":{"field":"v","type":"quantitative","scale":{"domain":[430,1310],"nice":false,"zero":false},"axis":{"values":[600,800,1000,1200],"title":"Vₕₑₗ [km s⁻¹]"}},"y":{"field":"f","type":"quantitative","scale":{"domain":[-26,104],"nice":false,"zero":false},"axis":{"values":[-20,0,20,40,60,80,100],"title":"Flux [mJy Beam⁻¹]"}}}}]},
{"title":"1248+0430","width":125,"height":125,"layer":[
{"data":{"name":"vlines"},"transform":[{"filter":"datum.p==='1248+0430'"}],"mark":{"type":"rule","color":"#e2e2e2","strokeWidth":0.6},"encoding":{"x":{"field":"v","type":"quantitative","scale":{"domain":[375,1470],"nice":false,"zero":false},"axis":{"values":[600,800,1000,1200,1400],"title":"Vₕₑₗ [km s⁻¹]"}}}},
{"data":{"values":[{}]},"mark":{"type":"rule","color":"#777","strokeDash":[3,2],"strokeWidth":0.7},"encoding":{"y":{"datum":0,"type":"quantitative","scale":{"domain":[-33,525],"nice":false,"zero":false},"axis":{"values":[0,50,100,150,200,250,300,350,400,450,500],"title":"Flux [mJy Beam⁻¹]"}}}},
{"data":{"name":"s16"},"mark":{"type":"line","clip":true,"interpolate":"monotone","color":"#3a3a3a","strokeWidth":0.8},"encoding":{"x":{"field":"v","type":"quantitative","scale":{"domain":[375,1470],"nice":false,"zero":false},"axis":{"values":[600,800,1000,1200,1400],"title":"Vₕₑₗ [km s⁻¹]"}},"y":{"field":"f","type":"quantitative","scale":{"domain":[-33,525],"nice":false,"zero":false},"axis":{"values":[0,50,100,150,200,250,300,350,400,450,500],"title":"Flux [mJy Beam⁻¹]"}}}}]},
{"title":"1248+0830","width":125,"height":125,"layer":[
{"data":{"name":"vlines"},"transform":[{"filter":"datum.p==='1248+0830'"}],"mark":{"type":"rule","color":"#e2e2e2","strokeWidth":0.6},"encoding":{"x":{"field":"v","type":"quantitative","scale":{"domain":[505,1545],"nice":false,"zero":false},"axis":{"values":[600,800,1000,1200,1400],"title":"Vₕₑₗ [km s⁻¹]"}}}},
{"data":{"values":[{}]},"mark":{"type":"rule","color":"#777","strokeDash":[3,2],"strokeWidth":0.7},"encoding":{"y":{"datum":0,"type":"quantitative","scale":{"domain":[-37,147],"nice":false,"zero":false},"axis":{"values":[-20,0,20,40,60,80,100,120,140],"title":"Flux [mJy Beam⁻¹]"}}}},
{"data":{"name":"s17"},"mark":{"type":"line","clip":true,"interpolate":"monotone","color":"#3a3a3a","strokeWidth":0.8},"encoding":{"x":{"field":"v","type":"quantitative","scale":{"domain":[505,1545],"nice":false,"zero":false},"axis":{"values":[600,800,1000,1200,1400],"title":"Vₕₑₗ [km s⁻¹]"}},"y":{"field":"f","type":"quantitative","scale":{"domain":[-37,147],"nice":false,"zero":false},"axis":{"values":[-20,0,20,40,60,80,100,120,140],"title":"Flux [mJy Beam⁻¹]"}}}}]},
{"title":"1249+0330","width":125,"height":125,"layer":[
{"data":{"name":"vlines"},"transform":[{"filter":"datum.p==='1249+0330'"}],"mark":{"type":"rule","color":"#e2e2e2","strokeWidth":0.6},"encoding":{"x":{"field":"v","type":"quantitative","scale":{"domain":[385,1240],"nice":false,"zero":false},"axis":{"values":[500,600,700,800,900,1000,1100,1200],"title":"Vₕₑₗ [km s⁻¹]"}}}},
{"data":{"values":[{}]},"mark":{"type":"rule","color":"#777","strokeDash":[3,2],"strokeWidth":0.7},"encoding":{"y":{"datum":0,"type":"quantitative","scale":{"domain":[-54,423],"nice":false,"zero":false},"axis":{"values":[0,50,100,150,200,250,300,350,400],"title":"Flux [mJy Beam⁻¹]"}}}},
{"data":{"name":"s18"},"mark":{"type":"line","clip":true,"interpolate":"monotone","color":"#3a3a3a","strokeWidth":0.8},"encoding":{"x":{"field":"v","type":"quantitative","scale":{"domain":[385,1240],"nice":false,"zero":false},"axis":{"values":[500,600,700,800,900,1000,1100,1200],"title":"Vₕₑₗ [km s⁻¹]"}},"y":{"field":"f","type":"quantitative","scale":{"domain":[-54,423],"nice":false,"zero":false},"axis":{"values":[0,50,100,150,200,250,300,350,400],"title":"Flux [mJy Beam⁻¹]"}}}}]},
{"title":"1250+0515","width":125,"height":125,"layer":[
{"data":{"name":"vlines"},"transform":[{"filter":"datum.p==='1250+0515'"}],"mark":{"type":"rule","color":"#e2e2e2","strokeWidth":0.6},"encoding":{"x":{"field":"v","type":"quantitative","scale":{"domain":[402,1135],"nice":false,"zero":false},"axis":{"values":[500,600,700,800,900,1000,1100],"title":"Vₕₑₗ [km s⁻¹]"}}}},
{"data":{"values":[{}]},"mark":{"type":"rule","color":"#777","strokeDash":[3,2],"strokeWidth":0.7},"encoding":{"y":{"datum":0,"type":"quantitative","scale":{"domain":[-42,347],"nice":false,"zero":false},"axis":{"values":[0,50,100,150,200,250,300],"title":"Flux [mJy Beam⁻¹]"}}}},
{"data":{"name":"s19"},"mark":{"type":"line","clip":true,"interpolate":"monotone","color":"#3a3a3a","strokeWidth":0.8},"encoding":{"x":{"field":"v","type":"quantitative","scale":{"domain":[402,1135],"nice":false,"zero":false},"axis":{"values":[500,600,700,800,900,1000,1100],"title":"Vₕₑₗ [km s⁻¹]"}},"y":{"field":"f","type":"quantitative","scale":{"domain":[-42,347],"nice":false,"zero":false},"axis":{"values":[0,50,100,150,200,250,300],"title":"Flux [mJy Beam⁻¹]"}}}}]},
{"title":"1253+0215","width":125,"height":125,"layer":[
{"data":{"name":"vlines"},"transform":[{"filter":"datum.p==='1253+0215'"}],"mark":{"type":"rule","color":"#e2e2e2","strokeWidth":0.6},"encoding":{"x":{"field":"v","type":"quantitative","scale":{"domain":[756,1465],"nice":false,"zero":false},"axis":{"values":[800,1000,1200,1400],"title":"Vₕₑₗ [km s⁻¹]"}}}},
{"data":{"values":[{}]},"mark":{"type":"rule","color":"#777","strokeDash":[3,2],"strokeWidth":0.7},"encoding":{"y":{"datum":0,"type":"quantitative","scale":{"domain":[-32,62],"nice":false,"zero":false},"axis":{"values":[-20,-10,0,10,20,30,40,50,60],"title":"Flux [mJy Beam⁻¹]"}}}},
{"data":{"name":"s20"},"mark":{"type":"line","clip":true,"interpolate":"monotone","color":"#3a3a3a","strokeWidth":0.8},"encoding":{"x":{"field":"v","type":"quantitative","scale":{"domain":[756,1465],"nice":false,"zero":false},"axis":{"values":[800,1000,1200,1400],"title":"Vₕₑₗ [km s⁻¹]"}},"y":{"field":"f","type":"quantitative","scale":{"domain":[-32,62],"nice":false,"zero":false},"axis":{"values":[-20,-10,0,10,20,30,40,50,60],"title":"Flux [mJy Beam⁻¹]"}}}}]}
]
}
